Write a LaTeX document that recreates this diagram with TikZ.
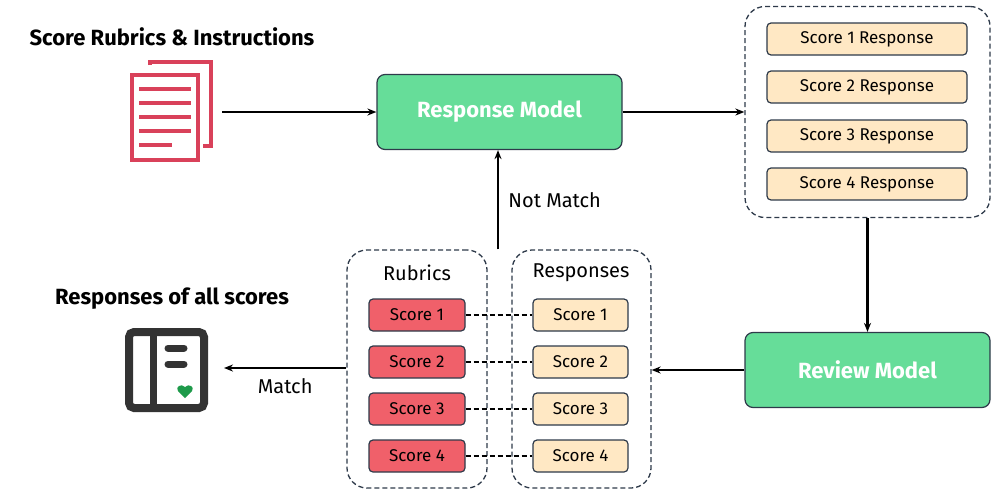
\documentclass[tikz,border=0pt]{standalone}
\usepackage{fontspec}
\setmainfont{Fira Sans}
\usetikzlibrary{arrows.meta}
\definecolor{docred}{HTML}{D9415A}
\definecolor{rgreen}{HTML}{66DD99}
\definecolor{sred}{HTML}{F0606A}
\definecolor{cream}{HTML}{FFE8C4}
\definecolor{edge}{HTML}{2E3A4A}
\definecolor{icon}{HTML}{333333}
\definecolor{chk}{HTML}{1E9A4A}
\begin{document}
\begin{tikzpicture}[x=1pt,y=-1pt,
  model/.style={draw=edge,fill=rgreen,rounded corners=8pt,line width=1.2pt,minimum width=245pt,minimum height=75pt,text=white,font=\bfseries\fontsize{22}{26}\selectfont},
  resp/.style={draw=edge,fill=cream,rounded corners=4pt,line width=1.2pt,minimum width=200pt,minimum height=32pt,font=\fontsize{17}{20}\selectfont},
  rub/.style={draw=edge,fill=sred,rounded corners=4pt,line width=1.2pt,minimum width=96pt,minimum height=32pt,font=\fontsize{17}{20}\selectfont},
  rsp/.style={draw=edge,fill=cream,rounded corners=4pt,line width=1.2pt,minimum width=95pt,minimum height=32pt,font=\fontsize{17}{20}\selectfont},
  cont/.style={draw=edge,dash pattern=on 5pt off 3pt,rounded corners=20pt,line width=1.3pt},
  arr/.style={-{Stealth[length=9pt,width=7pt]},line width=2.2pt},
  lbl/.style={font=\fontsize{20}{24}\selectfont},
  link/.style={dash pattern=on 5pt off 3pt,line width=1.1pt}]
\useasboundingbox (0,0) rectangle (996,493);
\node[lbl,font=\bfseries\fontsize{22}{26}\selectfont] (t1) at (172,37) {Score Rubrics \& Instructions};
% document icon
\draw[docred,line width=4pt] (150,65) -- (150,62) -- (211,62) -- (211,146) -- (203,146);
\draw[docred,line width=4pt] (132,75) rectangle (198,160);
\foreach \y in {89,103,117,131} \draw[docred,line width=4pt] (139,\y) -- (191,\y);
\draw[docred,line width=4pt] (139,145) -- (172,145);
\coordinate (doc) at (222,112);
\node[model] (rm) at (499.5,112) {Response Model};
\node[cont,minimum width=245pt,minimum height=211pt] (rc) at (867.5,112) {};
\foreach \i/\y in {1/39,2/87,3/136,4/184} \node[resp] (r\i) at (867,\y) {Score \i{} Response};
\node[model] (rv) at (867.5,370) {Review Model};
\node[cont,minimum width=140pt,minimum height=238pt] (rubc) at (417,369) {};
\node[cont,minimum width=139pt,minimum height=238pt] (rspc) at (581.5,369) {};
\node[lbl] (rubt) at (417,273) {Rubrics};
\node[lbl] (rspt) at (581,273) {Responses};
\foreach \i/\y in {1/315,2/362,3/409,4/456} {
  \node[rub] (a\i) at (417,\y) {Score \i};
  \node[rsp] (b\i) at (580.5,\y) {Score \i};
  \draw[link] (a\i) -- (b\i);
}
\node[lbl,font=\bfseries\fontsize{22}{26}\selectfont] (t2) at (172,299) {Responses of all scores};
% result icon
\draw[icon,line width=8pt,rounded corners=5pt] (129,332) rectangle (204,408);
\draw[icon,line width=7pt] (153,332) -- (153,408);
\draw[icon,line width=7pt,line cap=round] (168,348) -- (184,348);
\draw[icon,line width=7pt,line cap=round] (168,364) -- (184,364);
\fill[chk] (185,398) -- (178,391) .. controls (175,387) and (181,383) .. (185,387) .. controls (189,383) and (195,387) .. (192,391) -- cycle;
\coordinate (ico) at (224,368);
\draw[arr] (doc) -- (rm.west);
\draw[arr] (rm.east) -- (rc.west);
\draw[arr] (rc.south) -- (rv.north);
\draw[arr] (rv.west) -- (rspc.east |- rv.west);
\draw[arr] (rubc.north -| 498,0) -- node[lbl,right=6pt] (nm) {Not Match} (rm.south -| 498,0);
\draw[arr] (rubc.west |- ico) -- node[lbl,below=6pt] (mt) {Match} (ico);
\end{tikzpicture}
\end{document}
